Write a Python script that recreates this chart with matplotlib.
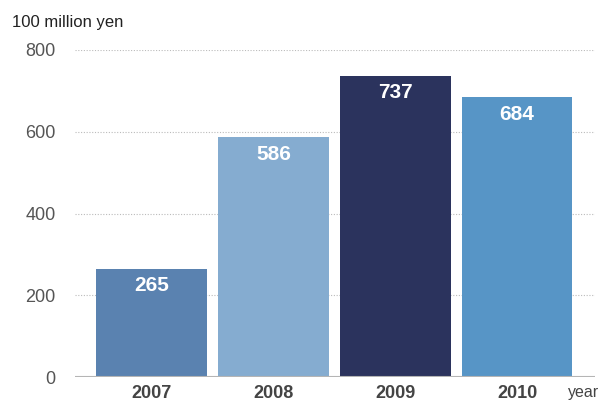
import matplotlib
matplotlib.use("Agg")
import matplotlib.pyplot as plt

years = ["2007", "2008", "2009", "2010"]
values = [265, 586, 737, 684]
colors = ["#5a82b0", "#85acd0", "#2b335d", "#5795c6"]
yticks = [0, 200, 400, 600, 800]

plt.rcParams['font.family'] = ['Liberation Sans', 'DejaVu Sans']

fig = plt.figure(figsize=(6.03, 4.03), dpi=100)
ax = fig.add_axes([75/603, 1-377/403, (595-75)/603, (377-50)/403])

x = list(range(len(years)))
bars = ax.bar(x, values, width=0.91, color=colors, zorder=3)
for xi, v in zip(x, values):
    ax.annotate(str(v), (xi, v), xytext=(0, -12), textcoords="offset points",
                ha="center", va="center", color="white", fontsize=15,
                fontweight="bold", zorder=4)

ax.set_xlim(-0.63, 3.64)
ax.set_ylim(0, 800)
ax.set_yticks(yticks)
ax.set_yticklabels([str(t) for t in yticks], fontsize=13, color="#555555")
ax.set_xticks(x)
ax.set_xticklabels(years, fontsize=13, fontweight="bold", color="#444444")
ax.tick_params(axis="both", length=0)
ax.tick_params(axis="y", pad=14)
ax.tick_params(axis="x", pad=6)

for t in yticks[1:]:
    ax.axhline(t, color="#bbbbbb", linestyle=(0, (1, 1.5)), linewidth=0.8, zorder=1)
ax.axhline(0, color="#b5b5b5", linewidth=1.5, zorder=5)

for s in ax.spines.values():
    s.set_visible(False)

fig.text(12/603, 1-22/403, "100 million yen", fontsize=12, color="#222222",
         ha="left", va="center")
fig.text(599/603, 1-393/403, "year", fontsize=11.5, color="#444444",
         ha="right", va="center")

fig.savefig("out.png", dpi=100)
